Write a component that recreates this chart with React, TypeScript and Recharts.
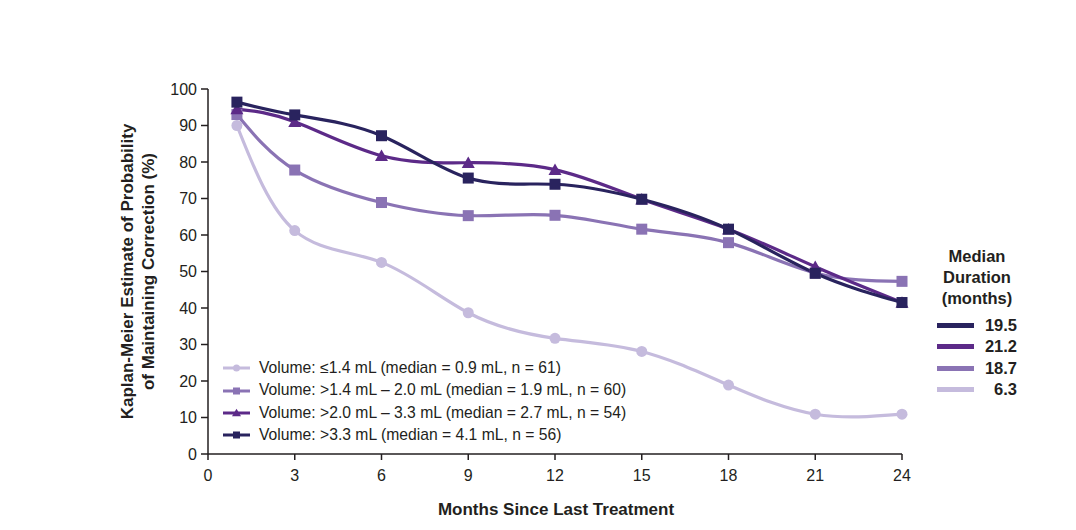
import { LineChart, Line, XAxis, YAxis } from "recharts";

const months = [1, 3, 6, 9, 12, 15, 18, 21, 24];
const xTicks = [0, 3, 6, 9, 12, 15, 18, 21, 24];
const yTicks = [0, 10, 20, 30, 40, 50, 60, 70, 80, 90, 100];

// Kaplan-Meier estimates (%) by injection volume group
const volLow = [90, 61.2, 52.5, 38.7, 31.7, 28.1, 18.9, 10.9, 10.9];
const volMidLow = [93, 77.8, 68.9, 65.3, 65.4, 61.6, 57.9, 49.6, 47.3];
const volMidHigh = [94.5, 91, 81.7, 79.8, 77.9, 69.8, 61.6, 51.3, 41.5];
const volHigh = [96.4, 92.9, 87.2, 75.6, 73.9, 69.8, 61.6, 49.5, 41.5];

const seriesNames = [
  "Volume: ≤1.4 mL (median = 0.9 mL, n = 61)",
  "Volume: >1.4 mL – 2.0 mL (median = 1.9 mL, n = 60)",
  "Volume: >2.0 mL – 3.3 mL (median = 2.7 mL, n = 54)",
  "Volume: >3.3 mL (median = 4.1 mL, n = 56)",
];
const medianDurations = ["19.5", "21.2", "18.7", "6.3"];

const LIGHT = "#c5bbdd";
const MEDIUM = "#8a73b4";
const PURPLE = "#5c2a88";
const NAVY = "#29235e";

const FONT = '"Liberation Sans", Arial, Helvetica, sans-serif';
const INK = "#231f20";

const data = months.map((m, i) => ({
  month: m,
  low: volLow[i],
  midLow: volMidLow[i],
  midHigh: volMidHigh[i],
  high: volHigh[i],
}));

type Shape = "circle" | "square" | "triangle";

const series: { key: string; color: string; shape: Shape; name: string }[] = [
  { key: "low", color: LIGHT, shape: "circle", name: seriesNames[0] },
  { key: "midLow", color: MEDIUM, shape: "square", name: seriesNames[1] },
  { key: "midHigh", color: PURPLE, shape: "triangle", name: seriesNames[2] },
  { key: "high", color: NAVY, shape: "square", name: seriesNames[3] },
];

const marker = (shape: Shape, cx: number, cy: number, color: string, s: number) => {
  if (shape === "circle") return <circle cx={cx} cy={cy} r={s / 2} fill={color} />;
  if (shape === "square")
    return <rect x={cx - s / 2} y={cy - s / 2} width={s} height={s} fill={color} />;
  const h = s * 0.95;
  return (
    <polygon
      points={`${cx},${cy - h / 2 - 1} ${cx - s / 2 - 1},${cy + h / 2} ${cx + s / 2 + 1},${cy + h / 2}`}
      fill={color}
    />
  );
};

const makeDot = (shape: Shape, color: string) => (props: any) => {
  const { cx, cy, index } = props;
  return <g key={`${shape}-${color}-${index}`}>{marker(shape, cx, cy, color, 11)}</g>;
};

const VolumeLegend = () => (
  <div
    style={{
      position: "absolute",
      left: 221,
      top: 357,
      fontFamily: FONT,
      fontSize: 15.7,
      color: INK,
      lineHeight: "22.4px",
    }}
  >
    {series.map((s) => (
      <div key={s.key} style={{ display: "flex", alignItems: "center" }}>
        <svg width={36} height={14} style={{ marginRight: 2 }}>
          <line x1={2} y1={7} x2={29} y2={7} stroke={s.color} strokeWidth={3} />
          {marker(s.shape, 15.5, 7, s.color, 7)}
        </svg>
        <span>{s.name}</span>
      </div>
    ))}
  </div>
);

const YTitle = (props: any) => {
  const { viewBox } = props;
  const cy = viewBox.y + viewBox.height / 2;
  return (
    <text
      transform={`translate(133, ${cy}) rotate(-90)`}
      textAnchor="middle"
      fontFamily={FONT}
      fontWeight="bold"
      fontSize={17}
      fill={INK}
    >
      <tspan x={0} dy={0}>Kaplan-Meier Estimate of Probability</tspan>
      <tspan x={0} dy={21}>of Maintaining Correction (%)</tspan>
    </text>
  );
};

const XTitle = (props: any) => {
  const { viewBox } = props;
  return (
    <text
      x={viewBox.x + viewBox.width / 2 + 1}
      y={515}
      textAnchor="middle"
      fontFamily={FONT}
      fontWeight="bold"
      fontSize={17}
      fill={INK}
    >
      Months Since Last Treatment
    </text>
  );
};

export default function App() {
  const tickStyle = { fill: INK, fontSize: 16, fontFamily: FONT };
  return (
    <div style={{ position: "absolute", left: 0, top: 0, width: 1076, height: 530, background: "#fff" }}>
      <LineChart
        width={1076}
        height={530}
        data={data}
        margin={{ top: 89, right: 174, bottom: 36, left: 148 }}
      >
        <XAxis
          dataKey="month"
          type="number"
          domain={[0, 24]}
          ticks={xTicks}
          height={40}
          tick={tickStyle}
          tickSize={6}
          tickMargin={10}
          stroke={INK}
          strokeWidth={1.5}
          label={<XTitle />}
        />
        <YAxis
          type="number"
          domain={[0, 100]}
          ticks={yTicks}
          width={60}
          tick={tickStyle}
          tickSize={7}
          tickMargin={4}
          stroke={INK}
          strokeWidth={1.5}
          label={<YTitle />}
        />
        {series.map((s) => (
          <Line
            key={s.key}
            type="natural"
            dataKey={s.key}
            name={s.name}
            stroke={s.color}
            strokeWidth={3.2}
            dot={makeDot(s.shape, s.color)}
            activeDot={false}
            isAnimationActive={false}
          />
        ))}
      </LineChart>
      <VolumeLegend />
      <div
        style={{
          position: "absolute",
          left: 928,
          top: 246,
          width: 98,
          fontFamily: FONT,
          fontSize: 16.5,
          fontWeight: "bold",
          color: INK,
        }}
      >
        <div style={{ textAlign: "center", lineHeight: "21px" }}>
          Median
          <br />
          Duration
          <br />
          (months)
        </div>
        <div style={{ marginTop: 6 }}>
          {[NAVY, PURPLE, MEDIUM, LIGHT].map((c, i) => (
            <div key={c} style={{ display: "flex", alignItems: "center", height: 21.3 }}>
              <div style={{ width: 37, height: 5, background: c, marginLeft: 9, marginRight: 7 }} />
              <span style={{ width: 36, textAlign: "right" }}>{medianDurations[i]}</span>
            </div>
          ))}
        </div>
      </div>
    </div>
  );
}
